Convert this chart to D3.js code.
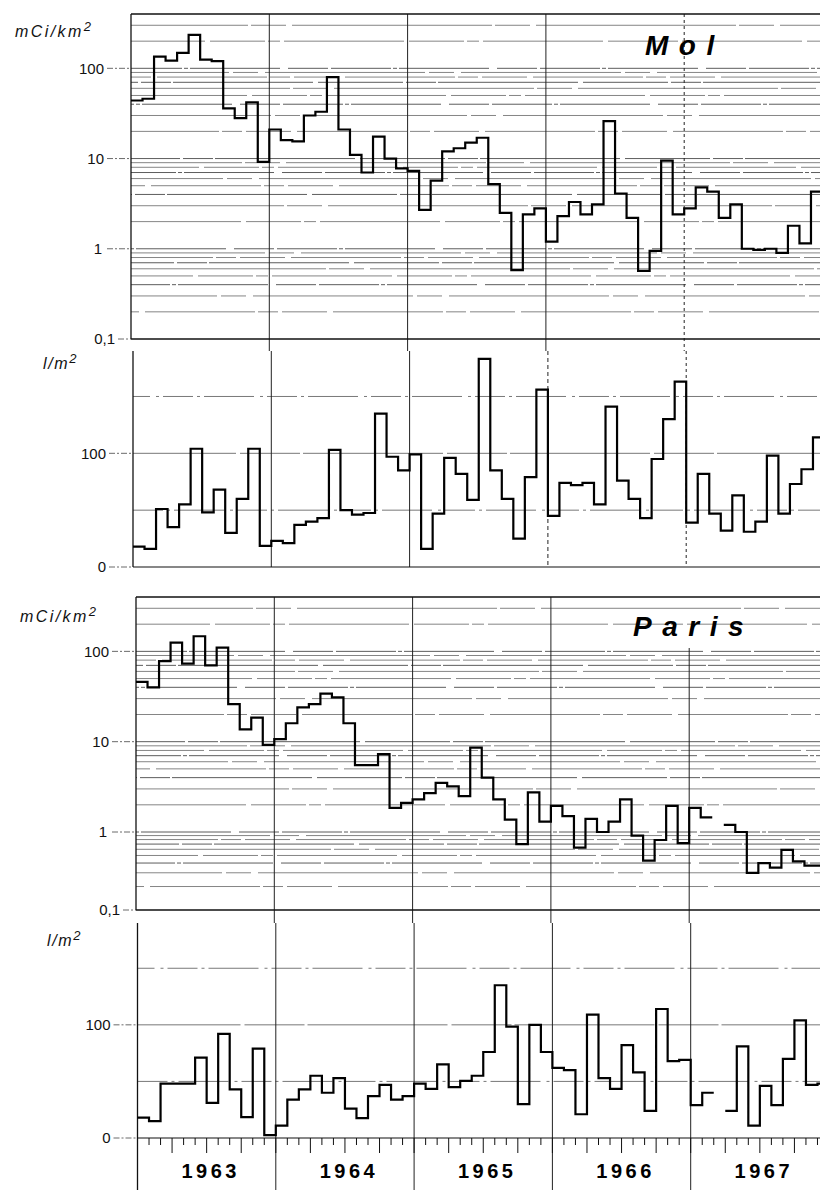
<!DOCTYPE html>
<html>
<head>
<meta charset="utf-8">
<script src="https://cdn.jsdelivr.net/npm/d3@7"></script>
<style>
  body { margin: 0; background: #fff; }
  svg { display: block; font-family: "Liberation Sans", Arial, sans-serif; }
</style>
</head>
<body>
<div id="container"></div>
<script>
// monthly values, Jan 1963 .. Dec 1967
const years = ["1963", "1964", "1965", "1966", "1967"];

const molFallout = [
  44, 46, 135, 122, 148, 235, 125, 120, 36, 28, 42, 9.2,
  21, 16, 15.5, 30, 33, 80, 21, 11, 7, 17.5, 10, 7.8,
  7.3, 2.7, 5.7, 12, 13, 15, 17, 5.2, 2.5, 0.58, 2.4, 2.8,
  1.2, 2.3, 3.3, 2.4, 3.1, 26, 4.1, 2.2, 0.57, 0.95, 9.5, 2.4,
  2.8, 4.8, 4.3, 2.2, 3.1, 1.0, 0.97, 1.0, 0.9, 1.8, 1.15, 4.3
];
const molRain = [
  18, 16, 51, 35, 55, 104, 48, 68, 30, 60, 104, 18.5,
  23, 21, 37, 40, 43, 103, 50, 46, 47.5, 135, 97, 85,
  99, 16, 47, 96, 82, 59, 183, 85, 60, 25, 79, 156,
  45, 74, 72, 74, 55, 141, 76, 60, 43, 95, 130, 163,
  39, 82, 47, 32, 63, 31, 40, 98, 47, 73, 86, 114
];
const parisFallout = [
  46, 40, 78, 125, 73, 147, 70, 110, 26, 13.7, 18.5, 9.2,
  10.7, 16, 24, 26, 34, 31, 16, 5.5, 5.5, 7.3, 1.85, 2.1,
  2.3, 2.7, 3.5, 3.2, 2.5, 8.6, 4.0, 2.3, 1.37, 0.70, 2.75, 1.3,
  1.95, 1.5, 0.63, 1.4, 1.0, 1.3, 2.3, 0.90, 0.43, 0.79, 1.95, 0.72,
  1.85, 1.45, null, 1.2, 1.0, 0.30, 0.40, 0.35, 0.59, 0.42, 0.37, 0.37
];
const parisRain = [
  18, 15, 48, 48, 48, 71, 31, 92, 43, 18.5, 79, 2.5,
  11, 34, 43, 55, 40, 53, 26, 17.5, 37, 47, 34, 37,
  48, 43.5, 65, 45, 50.5, 55, 76, 135, 98.5, 30, 100, 76,
  62, 60, 21, 109, 53, 43.5, 82, 58, 24, 114, 68, 69,
  29, 40, null, 24, 81, 11, 46, 29, 70, 104, 47, 48
];

const logTicks = [100, 10, 1, 0.1];
const logTickLabels = ["100", "10", "1", "0,1"];
const rainTicks = [100, 0];
const rainTickLabels = ["100", "0"];
const rainGrid = [50, 100, 150];

const W = 820, H = 1190;
const yearW = 138.3;
const svg = d3.select("#container").append("svg")
  .attr("width", W).attr("height", H);

// broken, scan-like grid strokes
const dashes = ["85,3,30,2,140,5", "45,6,110,3,20,4", "160,4,25,7", "60,2,4,2,90,8,40,3", "120,5,55,3,12,4", "200,3,35,6"];

function stepPoints(values) {
  const pts = [];
  values.forEach((v, i) => {
    if (v == null) { pts.push({ m: i, v: null }); return; }
    pts.push({ m: i, v: v });
    pts.push({ m: i + 1, v: v });
  });
  return pts;
}

function drawPanel(p) {
  const g = svg.append("g");
  const x = d3.scaleLinear().domain([0, 60]).range([p.left, p.left + 5 * yearW]);
  const y = p.log
    ? d3.scaleLog().domain(p.domain).range(p.range)
    : d3.scaleLinear().domain([0, 190]).range([p.bottom, p.top]);

  // horizontal grid
  const gridVals = p.log ? y.ticks() : rainGrid;
  gridVals.forEach((v, i) => {
    const yy = y(v);
    if (yy < p.top + 2 || yy > p.bottom - 2) return;
    g.append("line")
      .attr("x1", p.left).attr("x2", W)
      .attr("y1", yy).attr("y2", yy)
      .attr("stroke", p.log ? (i % 3 === 0 ? "#333" : "#666") : "#555")
      .attr("stroke-width", p.log ? 0.8 : 0.8)
      .attr("stroke-dasharray", p.log ? dashes[i % dashes.length] : (v === 100 ? "140,4,60,3" : "30,4,3,4,50,6,3,4"))
      .attr("stroke-dashoffset", (i * 37) % 90);
  });

  // year dividers
  for (let k = 1; k < 5; k++) {
    const xx = x(k * 12);
    g.append("line")
      .attr("x1", xx).attr("x2", xx)
      .attr("y1", p.yearTop != null && k === 4 ? p.yearTop : p.top)
      .attr("y2", p.lineBottom)
      .attr("stroke", "#222")
      .attr("stroke-width", 1)
      .attr("stroke-dasharray", p.yearDash && p.yearDash[k] ? p.yearDash[k] : null);
  }

  // frame
  g.append("line").attr("x1", p.left).attr("x2", p.left)
    .attr("y1", p.top).attr("y2", p.frameBottom || p.bottom)
    .attr("stroke", "#111").attr("stroke-width", 1.3);
  if (p.topBorder) {
    g.append("line").attr("x1", p.left).attr("x2", W)
      .attr("y1", p.top).attr("y2", p.top)
      .attr("stroke", "#111").attr("stroke-width", 1.3);
  }
  g.append("line").attr("x1", p.left).attr("x2", W)
    .attr("y1", p.bottom).attr("y2", p.bottom)
    .attr("stroke", "#111").attr("stroke-width", p.log ? 1.6 : 1.1);

  // y tick labels with leader dashes
  const ticks = p.log ? logTicks : rainTicks;
  const labels = p.log ? logTickLabels : rainTickLabels;
  ticks.forEach((v, i) => {
    const yy = y(v);
    const small = labels[i] === "0,1";
    const tx = small ? p.left - 16 : p.left - 27 + (labels[i] === "1" ? -2 : 0);
    g.append("text")
      .attr("x", tx).attr("y", yy).attr("dy", "0.36em")
      .attr("text-anchor", "end")
      .attr("font-size", 15).attr("fill", "#111")
      .text(labels[i]);
    g.append("line")
      .attr("x1", small ? p.left - 13 : p.left - 24).attr("x2", p.left)
      .attr("y1", yy).attr("y2", yy)
      .attr("stroke", "#444").attr("stroke-width", 0.8)
      .attr("stroke-dasharray", "6,2,2,2");
  });

  // unit label
  const u = g.append("text")
    .attr("x", p.unitX).attr("y", p.unitY)
    .attr("font-size", 16).attr("font-style", "italic")
    .attr("letter-spacing", p.log ? 2.4 : 1.6)
    .attr("fill", "#111");
  u.append("tspan").text(p.log ? "mCi/km" : "l/m");
  u.append("tspan").attr("dy", -6).attr("font-size", 13).text("2");

  // step trace
  const line = d3.line()
    .defined(d => d.v != null)
    .x(d => x(d.m))
    .y(d => y(d.v));
  g.append("path")
    .datum(stepPoints(p.data))
    .attr("fill", "none")
    .attr("stroke", "#000")
    .attr("stroke-width", 2.2)
    .attr("stroke-linejoin", "miter")
    .attr("d", line);

  if (p.title) {
    g.append("text")
      .attr("x", p.titleX).attr("y", p.titleY)
      .attr("font-size", 28).attr("font-weight", "bold").attr("font-style", "italic")
      .attr("letter-spacing", 10.5)
      .attr("fill", "#000")
      .text(p.title);
  }

  if (p.monthTicks) {
    for (let i = 0; i <= 60; i++) {
      g.append("line")
        .attr("x1", x(i)).attr("x2", x(i))
        .attr("y1", p.bottom).attr("y2", p.bottom + (i % 3 === 0 ? 15 : 7))
        .attr("stroke", "#111").attr("stroke-width", 1);
    }
    years.forEach((yr, k) => {
      g.append("text")
        .attr("x", x(k * 12 + 6) + 4).attr("y", 1178)
        .attr("text-anchor", "middle")
        .attr("font-size", 20).attr("font-weight", "bold")
        .attr("letter-spacing", 3.5)
        .attr("fill", "#000")
        .text(yr);
    });
  }
}

drawPanel({
  log: true, data: molFallout, left: 131, top: 14, bottom: 339, lineBottom: 351,
  domain: [0.1, 400], range: [339, 14], topBorder: true,
  unitX: 15, unitY: 37, title: "Mol", titleX: 645, titleY: 55,
  yearDash: { 4: "3,3" }
});
drawPanel({
  log: false, data: molRain, left: 133, top: 351, bottom: 567, lineBottom: 567,
  unitX: 43, unitY: 369, yearDash: { 3: "4,3", 4: "3,3" }
});
drawPanel({
  log: true, data: parisFallout, left: 136, top: 597, bottom: 910, lineBottom: 923,
  domain: [0.1, 1, 400], range: [910, 832, 597], topBorder: true, yearTop: 648,
  unitX: 20, unitY: 622, title: "Paris", titleX: 633, titleY: 636
});
drawPanel({
  log: false, data: parisRain, left: 137.5, top: 923, bottom: 1138, lineBottom: 1190,
  frameBottom: 1190, unitX: 47, unitY: 946, monthTicks: true
});
</script>
</body>
</html>
